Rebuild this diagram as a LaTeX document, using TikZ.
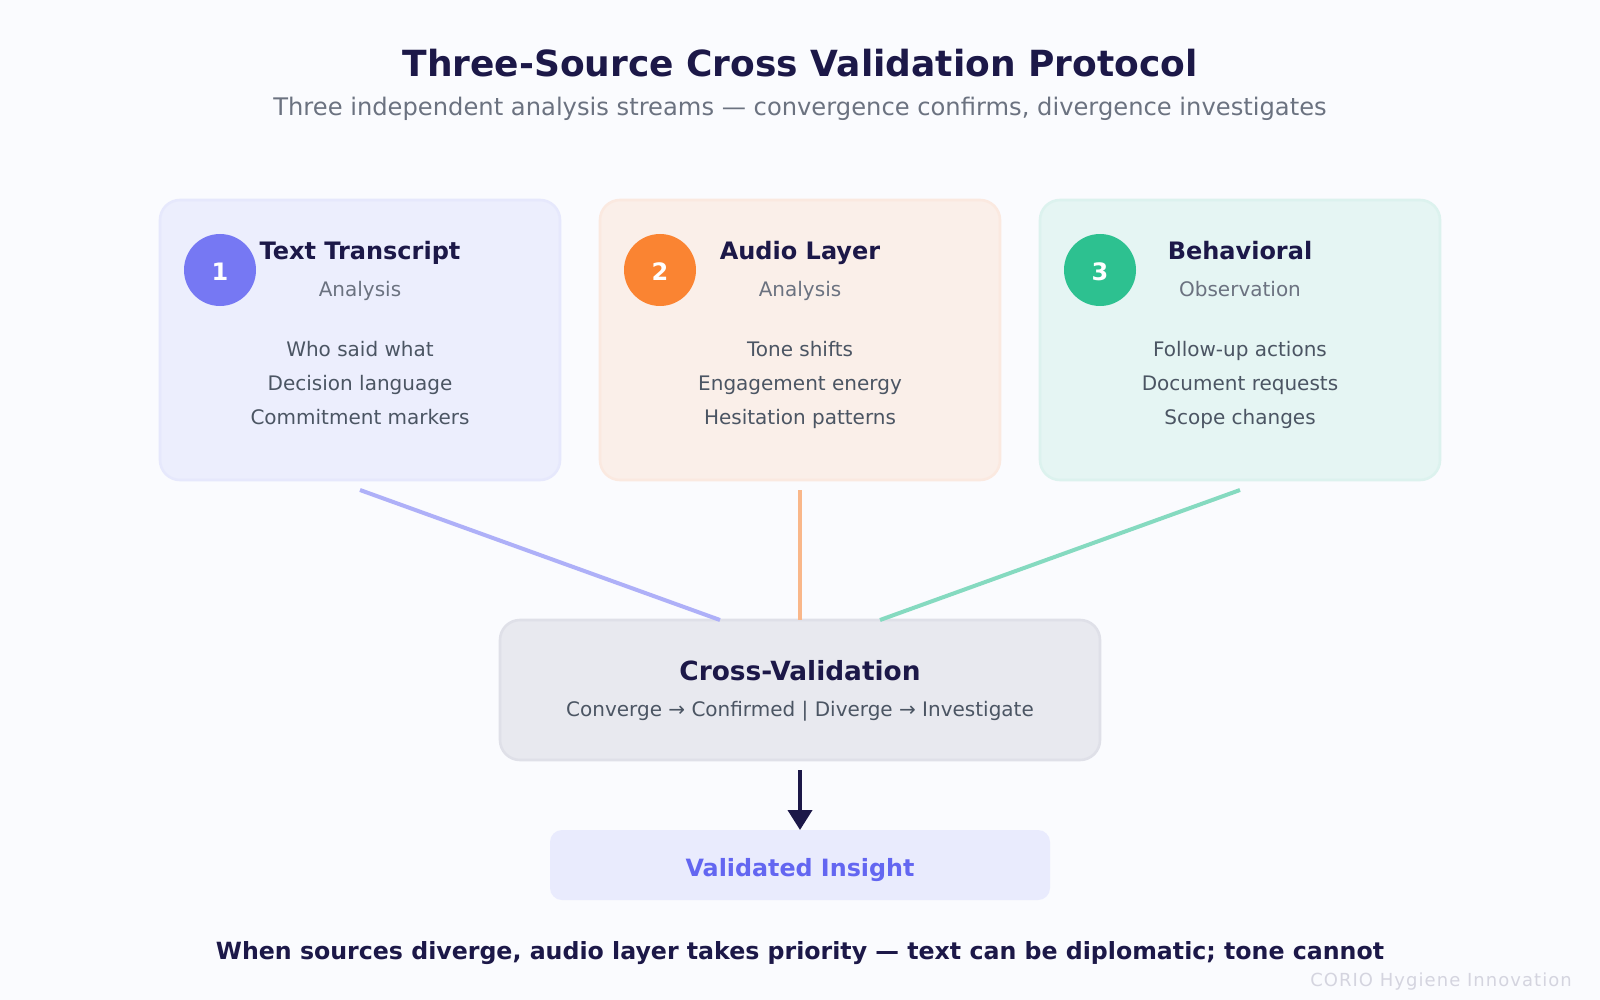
\documentclass[tikz,border=0pt]{standalone}
\usepackage{fontspec}
\setmainfont{DejaVu Sans}
\newfontfamily\markfont[LetterSpace=5.8]{DejaVu Sans}
\usetikzlibrary{arrows.meta}
\definecolor{pagebg}{HTML}{FAFBFE}
\definecolor{inkdark}{HTML}{1C1848}
\definecolor{inkgrey}{HTML}{6B7280}
\definecolor{inkbody}{HTML}{4B5563}
\definecolor{indigo}{HTML}{6366F1}
\definecolor{orange}{HTML}{F97316}
\definecolor{green}{HTML}{10B981}
\tikzset{
  card/.style={draw=#1!13!pagebg, fill=#1!9!pagebg, line width=2.6pt, rounded corners=20pt,
    minimum width=400pt, minimum height=280pt, inner sep=0pt, outer sep=0pt, anchor=north west},
  badge/.style={circle, fill=#1!88!white, minimum size=72pt, inner sep=0pt, outer sep=0pt},
  badgetext/.style={white, font=\fontsize{24}{24}\selectfont\bfseries, anchor=base, inner sep=0pt},
  headtext/.style={inkdark, font=\fontsize{24}{24}\selectfont\bfseries, anchor=base, inner sep=0pt},
  subtext/.style={inkgrey, font=\fontsize{20}{20}\selectfont, anchor=base, inner sep=0pt},
  itemtext/.style={inkbody, font=\fontsize{20}{20}\selectfont, anchor=base, inner sep=0pt},
  feed/.style={#1!50!pagebg, line width=4pt}
}

\begin{document}
\begin{tikzpicture}[x=1pt, y=-1pt]
\useasboundingbox[fill=pagebg] (0, 0) rectangle (1600, 1000);
\node[inkdark, font=\fontsize{36}{36}\selectfont\bfseries, anchor=base, inner sep=0pt] (title) at (800, 77){Three-Source Cross Validation Protocol};
\node[inkgrey, font=\fontsize{24.2}{24}\selectfont, anchor=base, inner sep=0pt] (subtitle) at (800, 116){Three independent analysis streams — convergence confirms, divergence investigates};
% source cards
\node[card=indigo] (textCard) at (160, 200){};
\node[card=orange] (audioCard) at (600, 200){};
\node[card=green] (behavCard) at (1040, 200){};
\node[badge=indigo] (textBadge) at (220, 270){};
\node[badge=orange] (audioBadge) at (660, 270){};
\node[badge=green] (behavBadge) at (1100, 270){};
\node[badgetext] (textNum) at (220, 280){1};
\node[badgetext] (audioNum) at (660, 280){2};
\node[badgetext] (behavNum) at (1100, 280){3};
\node[headtext] (textHead) at (360, 260){Text Transcript};
\node[headtext] (audioHead) at (800, 260){Audio Layer};
\node[headtext] (behavHead) at (1240, 260){Behavioral};
\node[subtext] (textSub) at (360, 296){Analysis};
\node[subtext] (audioSub) at (800, 296){Analysis};
\node[subtext] (behavSub) at (1240, 296){Observation};
\node[itemtext] (textA) at (360, 356){Who said what};
\node[itemtext] (textB) at (360, 390){Decision language};
\node[itemtext] (textC) at (360, 424){Commitment markers};
\node[itemtext] (audioA) at (800, 356){Tone shifts};
\node[itemtext] (audioB) at (800, 390){Engagement energy};
\node[itemtext] (audioC) at (800, 424){Hesitation patterns};
\node[itemtext] (behavA) at (1240, 356){Follow-up actions};
\node[itemtext] (behavB) at (1240, 390){Document requests};
\node[itemtext] (behavC) at (1240, 424){Scope changes};
% validation box and result
\node[draw=inkdark!12!pagebg, fill=inkdark!8!pagebg, line width=2.6pt, rounded corners=20pt, minimum width=600pt, minimum height=140pt, inner sep=0pt, outer sep=0pt, anchor=north west] (crossBox) at (500, 620){};
\node[headtext, font=\fontsize{26.4}{26}\selectfont\bfseries] (crossHead) at (800, 680){Cross-Validation};
\node[itemtext] (crossSub) at (800, 716){Converge → Confirmed | Diverge → Investigate};
\node[fill=indigo!11!pagebg, rounded corners=12pt, minimum width=500pt, minimum height=70pt, inner sep=0pt, outer sep=0pt, anchor=north west] (insightBox) at (550, 830){};
\node[indigo, font=\fontsize{23.8}{24}\selectfont\bfseries, anchor=base, inner sep=0pt] (insightText) at (800, 876){Validated Insight};
% connectors
\coordinate (textFoot) at (360, 490);
\coordinate (audioFoot) at (800, 490);
\coordinate (behavFoot) at (1240, 490);
\coordinate (textIn) at (720, 620);
\coordinate (behavIn) at (880, 620);
\coordinate (arrowFoot) at (800, 770);
\draw[feed=indigo] (textFoot) -- (textIn);
\draw[feed=orange] (audioFoot) -- (crossBox.north);
\draw[feed=green] (behavFoot) -- (behavIn);
\draw[inkdark, line width=4pt, -{Triangle[width=24pt, length=20pt]}] (arrowFoot) -- (insightBox.north);
% footer
\node[inkdark, font=\fontsize{23.67}{24}\selectfont\bfseries, anchor=base, inner sep=0pt] (footer) at (800, 959.5){When sources diverge, audio layer takes priority — text can be diplomatic; tone cannot};
\node[inkdark!17!pagebg, font=\fontsize{18}{18}\markfont, anchor=base east, inner sep=0pt] (mark) at (1572, 986){CORIO Hygiene Innovation};
\end{tikzpicture}
\end{document}
